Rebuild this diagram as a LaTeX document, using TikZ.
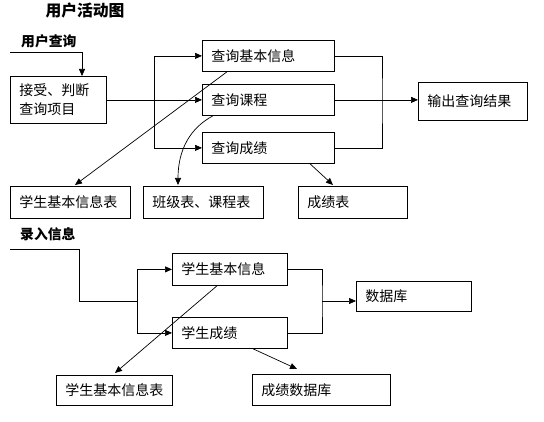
\documentclass[tikz,border=0pt]{standalone}
\usepackage{fontspec}
\setmainfont{Noto Sans CJK SC}
\usetikzlibrary{arrows.meta}
\begin{document}
\begin{tikzpicture}[x=1pt,y=-1pt,
  box/.style={draw=black, line width=0.8pt, anchor=north west, align=left,
    inner xsep=9pt, inner ysep=0pt, font=\fontsize{14}{19}\selectfont},
  conn/.style={line width=0.7pt, draw=black},
  arr/.style={conn, -{Triangle[length=7pt,width=6pt]}},
  hd/.style={font=\bfseries\fontsize{13.8}{16}\selectfont, anchor=west, inner sep=0pt}]
\useasboundingbox (0,0) rectangle (544,422);
% headings
\node[font=\bfseries\fontsize{15.8}{18}\selectfont, inner sep=0pt] (title) at (85,10.5) {用户活动图};
\node[hd] (h1) at (21,41) {用户查询};
\node[hd] (h2) at (20,234) {录入信息};
% top section boxes
\node[box, minimum height=47pt, text width=78pt] (A) at (10,76) {接受、判断\\查询项目};
\node[box, minimum height=31pt, text width=114pt] (B1) at (202,40) {查询基本信息};
\node[box, minimum height=31pt, text width=114pt] (B2) at (202,84) {查询课程};
\node[box, minimum height=31pt, text width=114pt] (B3) at (202,132) {查询成绩};
\node[box, minimum height=38pt, text width=91pt] (O) at (418,82) {输出查询结果};
\node[box, minimum height=32pt, text width=102pt] (C1) at (10,186) {学生基本信息表};
\node[box, minimum height=32pt, text width=102pt] (C2) at (143,186) {班级表、课程表};
\node[box, minimum height=32pt, text width=91pt] (C3) at (298,186) {成绩表};
% bottom section boxes
\node[box, minimum height=32pt, text width=97pt] (D1) at (172,253) {学生基本信息};
\node[box, minimum height=31pt, text width=97pt] (D2) at (172,317) {学生成绩};
\node[box, minimum height=30pt, text width=97pt] (DB) at (356,281) {数据库};
\node[box, minimum height=30pt, text width=98pt] (E1) at (56,375) {学生基本信息表};
\node[box, minimum height=31pt, text width=120pt] (E2) at (252,374) {成绩数据库};
% top connectors
\coordinate (q0) at (10,52);
\coordinate (qa) at (82,76);
\draw[arr] (q0) -| (qa);
\draw[arr] (A.east) -- (A.east -| B2.west);
\coordinate (lb) at (154,99.5);
\draw[arr] (lb) |- (B1.west);
\draw[arr] (lb) |- (B3.west);
\coordinate (rb) at (382,99.5);
\draw[conn] (B1.east) -| (rb) |- (B3.east);
\draw[arr] (B2.east) -- (B2.east -| O.west);
\draw[arr] ([xshift=25pt]B1.south west) -- ([xshift=65pt,yshift=1pt]C1.north west);
\draw[arr] ([xshift=11pt]B2.south west) .. controls (190,128) and (178,150) .. ([xshift=35pt,yshift=1pt]C2.north west);
\draw[arr] ([xshift=108pt]B3.south west) -- ([xshift=35pt,yshift=1pt]C3.north west);
% bottom connectors
\coordinate (r0) at (10,249);
\coordinate (lb2) at (137,301);
\draw[conn] (r0) -| (79,301) -- (lb2);
\draw[arr] (lb2) |- (D1.west);
\draw[arr] (lb2) |- (D2.west);
\coordinate (rb2) at (322,301);
\draw[conn] (D1.east) -| (rb2) |- (D2.east);
\draw[arr] (rb2) -- (rb2 -| DB.west);
\draw[arr] ([xshift=45pt]D1.south west) -- ([xshift=59pt,yshift=2pt]E1.north west);
\draw[arr] ([xshift=81pt]D2.south west) -- ([xshift=45pt,yshift=5pt]E2.north west);
\end{tikzpicture}
\end{document}
